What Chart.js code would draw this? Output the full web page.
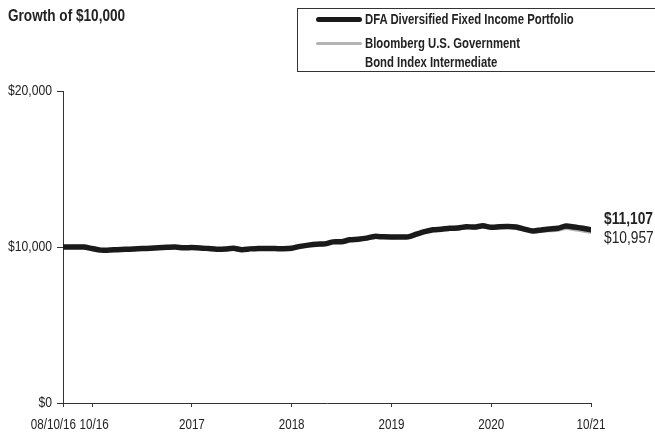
<!DOCTYPE html>
<html>
<head>
<meta charset="utf-8">
<script src="https://cdn.jsdelivr.net/npm/chart.js@4.4.1/dist/chart.umd.min.js"></script>
<style>
  body { margin: 0; background: #fff; }
  #wrap { position: relative; width: 655px; height: 437px; font-family: 'Liberation Sans', Arial, sans-serif; color: #222; overflow: hidden; }
  #wrap canvas { position: absolute; left: 0; top: 0; }
  .narrow { display: inline-block; transform-origin: 0 50%; white-space: nowrap; }
  .title { position: absolute; left: 8px; top: 6px; font-size: 17px; font-weight: bold; }
  .title .narrow { transform: scaleX(0.8); }
  .legend { position: absolute; left: 297px; top: 8px; width: 362px; height: 64px; border: 1px solid #333; box-sizing: border-box; font-size: 14px; font-weight: bold; }
  .legend .item { position: absolute; left: 18px; }
  .legend .sw { position: absolute; left: 0; width: 46px; border-radius: 3px; }
  .legend .txt { position: absolute; left: 49px; top: 0; line-height: 19px; transform: scaleX(0.81); }
</style>
</head>
<body>
<div id="wrap">
  <canvas id="growth"></canvas>
  <div class="title"><span class="narrow">Growth of $10,000</span></div>
  <div class="legend">
    <div class="item" style="top:1px"><span class="sw" style="height:5px;background:#1a1a1a;top:7px"></span><span class="txt narrow">DFA Diversified Fixed Income Portfolio</span></div>
    <div class="item" style="top:25px"><span class="sw" style="height:3px;background:#b3b3b3;top:8px"></span><span class="txt narrow">Bloomberg U.S. Government<br>Bond Index Intermediate</span></div>
  </div>
</div>
<script>
// monthly values, first point is the 08/10/16 start, then month-ends through 10/21
const dfaValues = [10000,10000,10000,9900,9800,9800,9830,9850,9870,9900,9920,9950,9980,10000,9950,9960,
  9940,9900,9860,9870,9920,9830,9880,9910,9900,9900,9890,9920,10040,10120,10180,10200,
  10330,10340,10460,10500,10570,10680,10650,10640,10640,10650,10820,10980,11100,11140,11200,11220,
  11300,11280,11360,11260,11300,11320,11280,11150,11030,11090,11150,11200,11350,11280,11200,11107];
const indexValues = [10000,10010,10020,9930,9820,9800,9810,9830,9850,9880,9900,9930,9960,9990,9940,9950,
  9930,9880,9850,9860,9900,9830,9870,9900,9890,9890,9880,9910,10030,10110,10170,10190,
  10320,10330,10440,10480,10560,10670,10640,10630,10640,10650,10810,10960,11080,11110,11160,11190,
  11260,11240,11320,11230,11260,11280,11230,11100,10990,11030,11070,11110,11220,11140,11060,10957];
const xTickMonths = [0, 3, 15, 27, 39, 51, 63];
const xTickLabels = ['08/10/16', '10/16', '2017', '2018', '2019', '2020', '10/21'];
const yTicks = [0, 10000, 20000];

const FONT = "'Liberation Sans', Arial, sans-serif";
const INK = '#222';

// the start date sits half a month before the first month-end
const monthPos = i => (i === 0 ? 0 : i + 0.5);
const toPoints = arr => arr.map((v, i) => ({ x: monthPos(i), y: v }));
const money = v => '$' + v.toLocaleString('en-US');

// no condensed face installed, so squeeze the text horizontally
function narrowText(ctx, text, x, y, align, sx) {
  ctx.save();
  ctx.translate(x, y);
  ctx.scale(sx, 1);
  ctx.textAlign = align;
  ctx.fillText(text, 0, 0);
  ctx.restore();
}

const labelsPlugin = {
  id: 'labels',
  afterDraw(chart) {
    const { ctx, chartArea, scales: { x, y } } = chart;
    ctx.save();
    ctx.fillStyle = INK;
    ctx.textBaseline = 'middle';

    ctx.font = '14px ' + FONT;
    yTicks.forEach(v => narrowText(ctx, money(v), chartArea.left - 11, y.getPixelForValue(v), 'right', 0.87));

    // x tick labels; the first two are nudged apart so they don't collide
    xTickMonths.forEach((m, k) => {
      const px = x.getPixelForValue(monthPos(m));
      const ly = chartArea.bottom + 22;
      if (k === 0) narrowText(ctx, xTickLabels[k], px + 13, ly, 'right', 0.83);
      else if (k === 1) narrowText(ctx, xTickLabels[k], px + 2, ly, 'center', 0.83);
      else narrowText(ctx, xTickLabels[k], px, ly, 'center', 0.83);
    });

    // ending values next to the lines
    const lastDfa = dfaValues[dfaValues.length - 1];
    const lastIdx = indexValues[indexValues.length - 1];
    const lx = chartArea.right + 13;
    ctx.font = 'bold 16px ' + FONT;
    narrowText(ctx, money(lastDfa), lx, y.getPixelForValue(lastDfa) - 10, 'left', 0.86);
    ctx.font = '16px ' + FONT;
    narrowText(ctx, money(lastIdx), lx, y.getPixelForValue(lastIdx) + 7, 'left', 0.86);
    ctx.restore();
  }
};

new Chart(document.getElementById('growth'), {
  type: 'line',
  data: {
    datasets: [
      { label: 'DFA Diversified Fixed Income Portfolio', data: toPoints(dfaValues), borderColor: '#1a1a1a', borderWidth: 5.5, order: 0 },
      { label: 'Bloomberg U.S. Government Bond Index Intermediate', data: toPoints(indexValues), borderColor: '#b3b3b3', borderWidth: 4, order: 1 }
    ]
  },
  options: {
    responsive: true,
    maintainAspectRatio: false,
    animation: false,
    events: [],
    elements: { point: { radius: 0 }, line: { tension: 0.25, borderCapStyle: 'round', borderJoinStyle: 'round' } },
    layout: { padding: { top: 91, right: 64, left: 0, bottom: 0 } },
    plugins: { legend: { display: false }, tooltip: { enabled: false } },
    scales: {
      x: {
        type: 'linear', min: 0, max: monthPos(63),
        afterBuildTicks: s => { s.ticks = xTickMonths.map(m => ({ value: monthPos(m) })); },
        afterFit: s => { s.height = 34; },
        ticks: { display: false },
        border: { color: '#333', width: 1 },
        grid: { drawOnChartArea: false, drawTicks: true, tickLength: 4, color: '#333' }
      },
      y: {
        min: 0, max: 20000,
        afterBuildTicks: s => { s.ticks = yTicks.map(v => ({ value: v })); },
        afterFit: s => { s.width = 63; },
        ticks: { display: false },
        border: { color: '#333', width: 1 },
        grid: { drawOnChartArea: false, drawTicks: true, tickLength: 6, color: '#333' }
      }
    }
  },
  plugins: [labelsPlugin]
});
</script>
</body>
</html>
